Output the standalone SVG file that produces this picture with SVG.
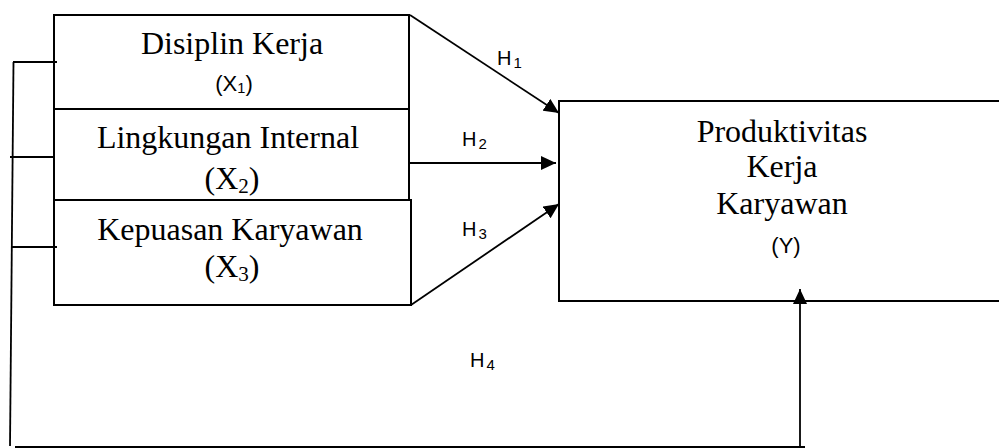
<svg xmlns="http://www.w3.org/2000/svg" width="999" height="448" viewBox="0 0 999 448">
<style>
  .box { fill: #fff; stroke: #000; stroke-width: 2; }
  .ln { fill: none; stroke: #000; stroke-width: 1.8; }
  .serif { font-family: "Liberation Serif", "Times New Roman", serif; font-size: 32px; fill: #000; text-anchor: middle; }
  .sans { font-family: "Liberation Sans", Arial, sans-serif; font-size: 22px; fill: #000; text-anchor: middle; }
  .hl { font-family: "Liberation Sans", Arial, sans-serif; font-size: 20px; fill: #000; }
  .sub { font-size: 66%; }
  .hsub { font-size: 75%; }
</style>
<defs>
  <marker id="arr" markerUnits="userSpaceOnUse" markerWidth="16" markerHeight="14" refX="15" refY="7" orient="auto">
    <path d="M0,0 L15,7 L0,14 Z" fill="#000"/>
  </marker>
</defs>
<rect width="999" height="448" fill="#fff"/>

<g id="x1">
  <rect class="box" x="54" y="15" width="355" height="94"/>
  <text class="serif" x="232" y="54">Disiplin Kerja</text>
  <text class="sans" x="234" y="91">(X<tspan class="sub" dy="2">1</tspan><tspan dy="-2">)</tspan></text>
</g>

<g id="x2">
  <rect class="box" x="54" y="109" width="355" height="91"/>
  <text class="serif" x="228" y="148">Lingkungan Internal</text>
  <text class="serif" x="232" y="189">(X<tspan class="sub" dy="4">2</tspan><tspan dy="-4">)</tspan></text>
</g>

<g id="x3">
  <rect class="box" x="54" y="200" width="357" height="105"/>
  <text class="serif" x="230" y="240">Kepuasan Karyawan</text>
  <text class="serif" x="232" y="277">(X<tspan class="sub" dy="4">3</tspan><tspan dy="-4">)</tspan></text>
</g>

<g id="y">
  <rect class="box" x="559" y="101" width="450" height="200"/>
  <text class="serif" x="782" y="142">Produktivitas</text>
  <text class="serif" x="782" y="177">Kerja</text>
  <text class="serif" x="782" y="214">Karyawan</text>
  <text class="sans" x="786" y="253">(Y)</text>
</g>

<g id="connectors">
  <line class="ln" x1="410" y1="15" x2="559" y2="113" marker-end="url(#arr)"/>
  <line class="ln" x1="410" y1="163" x2="556" y2="163" marker-end="url(#arr)"/>
  <line class="ln" x1="411" y1="305" x2="559" y2="204" marker-end="url(#arr)"/>
  <polyline class="ln" points="13.5,62 10,446"/>
  <line class="ln" x1="13" y1="62" x2="57" y2="62"/>
  <line class="ln" x1="10" y1="157" x2="54" y2="157"/>
  <line class="ln" x1="12" y1="247" x2="57" y2="247"/>
  <line class="ln" x1="15" y1="447" x2="805" y2="447"/>
  <line class="ln" x1="800" y1="447" x2="800" y2="289" marker-end="url(#arr)"/>
</g>

<g id="labels">
  <text class="hl" x="497" y="65">H<tspan class="hsub" dx="2" dy="3">1</tspan></text>
  <text class="hl" x="462" y="146">H<tspan class="hsub" dx="2" dy="3">2</tspan></text>
  <text class="hl" x="462" y="236">H<tspan class="hsub" dx="2" dy="3">3</tspan></text>
  <text class="hl" x="470" y="367">H<tspan class="hsub" dx="2" dy="3">4</tspan></text>
</g>
</svg>
